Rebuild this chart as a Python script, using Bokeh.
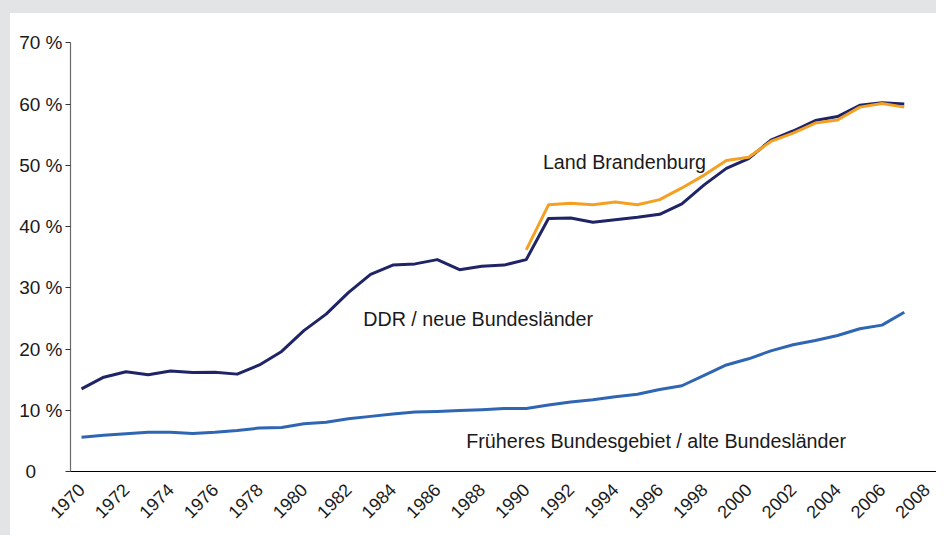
import math
from bokeh.plotting import figure
from bokeh.models import Range1d, FixedTicker, Spacer, ColumnDataSource
from bokeh.layouts import column, row
from bokeh.core.properties import value
from bokeh.embed import file_html
from bokeh.resources import INLINE

years = list(range(1970, 2008))
ddr = [13.5, 15.4, 16.3, 15.8, 16.4, 16.15, 16.2, 15.9, 17.4, 19.6,
       23.0, 25.7, 29.2, 32.2, 33.7, 33.9, 34.6, 32.95, 33.5, 33.7,
       34.6, 41.3, 41.4, 40.7, 41.1, 41.5, 42.0, 43.7, 46.8, 49.5,
       51.1, 54.1, 55.6, 57.3, 57.96, 59.8, 60.2, 60.0]
brand_years = list(range(1990, 2008))
brandenburg = [36.2, 43.55, 43.8, 43.55, 44.0, 43.55, 44.4, 46.3, 48.4, 50.8,
               51.3, 53.9, 55.25, 56.9, 57.4, 59.5, 60.1, 59.5]
alte = [5.6, 5.9, 6.15, 6.4, 6.4, 6.2, 6.4, 6.7, 7.1, 7.2,
        7.8, 8.05, 8.6, 9.0, 9.4, 9.7, 9.8, 9.95, 10.1, 10.3,
        10.3, 10.85, 11.35, 11.7, 12.2, 12.6, 13.4, 14.0, 15.7, 17.4,
        18.4, 19.7, 20.7, 21.4, 22.2, 23.3, 23.9, 26.0]

x_ticks = list(range(1970, 2009, 2))
y_ticks = [0, 10, 20, 30, 40, 50, 60, 70]
y_tick_labels = ["0\u00a0\u00a0\u00a0\u00a0\u00a0", "10 %", "20 %", "30 %", "40 %", "50 %", "60 %", "70 %"]

series_labels = ["Land Brandenburg", "DDR / neue Bundesländer",
                 "Früheres Bundesgebiet / alte Bundesländer"]
label_x = [1990.75, 1982.67, 1987.3]
label_y = [50.46, 24.9, 5.06]

FONT = "Liberation Sans"
GREY = "#e3e4e6"

p = figure(width=926, height=522, output_backend="svg", toolbar_location=None,
           x_range=Range1d(1969.505, 2008.45), y_range=Range1d(0, 70.05),
           min_border_left=60, min_border_right=0, min_border_top=29, min_border_bottom=64,
           background_fill_color="white", border_fill_color="white")
p.outline_line_color = None
p.xgrid.visible = False
p.ygrid.visible = False

p.line(years, alte, line_color="#2f66b3", line_width=3, line_join="round")
p.line(years, ddr, line_color="#1e2466", line_width=3, line_join="round")
p.line(brand_years, brandenburg, line_color="#f5a023", line_width=3, line_join="round")

src = ColumnDataSource(dict(x=label_x, y=label_y, t=series_labels))
p.text(x="x", y="y", text="t", source=src, text_font=value(FONT),
       text_font_size="19.7px", text_color="#1a1a1a", text_baseline="alphabetic",
       text_align="left")

xa = p.xaxis[0]
xa.ticker = FixedTicker(ticks=x_ticks)
xa.major_label_overrides = {t: str(t) for t in x_ticks}
xa.major_label_orientation = math.pi / 4
xa.major_tick_line_color = None
xa.minor_tick_line_color = None
xa.axis_line_color = "black"
xa.axis_line_width = 1.2
xa.major_label_text_font = FONT
xa.major_label_text_font_size = "18px"
xa.major_label_text_color = "#1a1a1a"
xa.major_label_standoff = 9

ya = p.yaxis[0]
ya.ticker = FixedTicker(ticks=y_ticks)
ya.major_label_overrides = {t: l for t, l in zip(y_ticks, y_tick_labels)}
ya.major_tick_out = 5
ya.major_tick_in = 0
ya.minor_tick_line_color = None
ya.major_tick_line_color = "#333333"
ya.axis_line_color = "#6a6a6a"
ya.axis_line_width = 1.2
ya.major_label_text_font = FONT
ya.major_label_text_font_size = "19px"
ya.major_label_text_color = "#1a1a1a"
ya.major_label_standoff = 3

top = Spacer(width=936, height=13, styles={"background-color": GREY})
left = Spacer(width=10, height=522, styles={"background-color": GREY})
layout = column(top, row(left, p))

open("out.html", "w").write(file_html(layout, INLINE))
